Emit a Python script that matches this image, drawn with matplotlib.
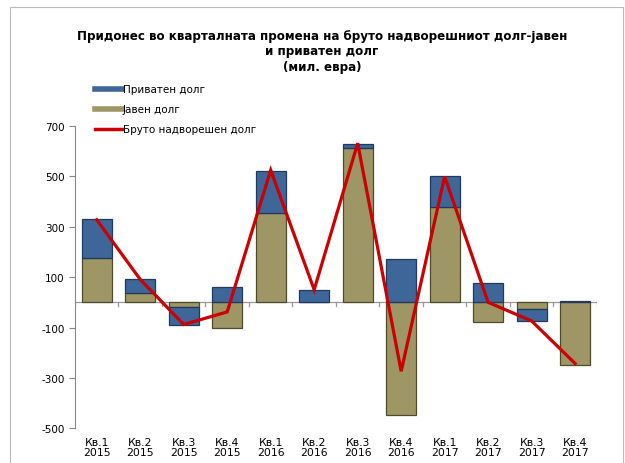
import numpy as np
import matplotlib
matplotlib.use("Agg")
import matplotlib.pyplot as plt
from matplotlib.lines import Line2D
from matplotlib.patches import Rectangle

quarters = ["Кв.1\n2015", "Кв.2\n2015", "Кв.3\n2015", "Кв.4\n2015",
            "Кв.1\n2016", "Кв.2\n2016", "Кв.3\n2016", "Кв.4\n2016",
            "Кв.1\n2017", "Кв.2\n2017", "Кв.3\n2017", "Кв.4\n2017"]
javen = [175, 38, -18, -100, 355, 0, 615, -448, 380, -77, -28, -248]
privaten = [155, 53, -72, 62, 168, 48, 15, 172, 122, 78, -47, 4]
bruto = [328, 91, -88, -38, 525, 50, 632, -274, 500, 0, -74, -243]
yticks = [700, 500, 300, 100, -100, -300, -500]

c_priv = "#3f6699"
c_jav = "#9e9664"
c_line = "#cc0000"

plt.rcParams['font.family'] = ['DejaVu Sans']

fig = plt.figure(figsize=(6.25, 4.64), dpi=100)
ax = fig.add_axes([0.12, 0.075, 0.835, 0.651])

x = np.arange(len(quarters))
jav = np.array(javen, dtype=float)
prv = np.array(privaten, dtype=float)

# excel-style stacking: positives and negatives stack separately
pos_base = np.where(jav > 0, jav, 0)
neg_base = np.where(jav < 0, jav, 0)
prv_bottom = np.where(prv >= 0, pos_base, neg_base)

w = 0.69
ax.bar(x, jav, w, color=c_jav, edgecolor="#4f4a2a", linewidth=0.9, zorder=2)
ax.bar(x, prv, w, bottom=prv_bottom, color=c_priv, edgecolor="#1f3a5c",
       linewidth=0.9, zorder=2)
ax.plot(x, bruto, color=c_line, lw=2.3, zorder=3, solid_joinstyle="miter")

ax.set_xlim(-0.5, len(quarters) - 0.5)
ax.set_ylim(-500, 700)
ax.set_yticks(yticks)
ax.set_yticklabels([str(v) for v in yticks], fontsize=7.5)
ax.set_xticks(x)
ax.set_xticklabels(quarters, fontsize=7.8, linespacing=1.05)
ax.tick_params(axis="x", length=0, pad=6)
ax.tick_params(axis="y", length=4, color="#888888", width=0.8)

for s in ["top", "right", "bottom"]:
    ax.spines[s].set_visible(False)
ax.spines["left"].set_color("#888888")
ax.spines["left"].set_linewidth(0.8)

# zero line with category separator ticks
ax.axhline(0, color="#999999", lw=0.9, zorder=1)
for b in np.arange(len(quarters) + 1) - 0.5:
    ax.plot([b, b], [0, -14], color="#999999", lw=0.9, zorder=1)

fig.text(0.515, 0.935,
         "Придонес во кварталната промена на бруто надворешниот долг-јавен\n"
         "и приватен долг\n(мил. евра)",
         ha="center", va="top", fontsize=8.6, fontweight="bold",
         linespacing=1.22)

handles = [Line2D([], [], color=c_priv, lw=4),
           Line2D([], [], color=c_jav, lw=4),
           Line2D([], [], color=c_line, lw=2.5)]
labels = ["Приватен долг", "Јавен долг", "Бруто надворешен долг"]
fig.legend(handles, labels, loc="upper left", bbox_to_anchor=(0.145, 0.826),
           frameon=False, fontsize=7.5, handlelength=2.6, handletextpad=0.1,
           handleheight=0.3, labelspacing=0.98, borderaxespad=0)

fig.patches.append(Rectangle((10 / 625, -0.01), 613 / 625, 1 - 8 / 464 + 0.01,
                             transform=fig.transFigure, fill=False,
                             edgecolor="#bbbbbb", lw=0.8))

fig.savefig("out.png", dpi=100)
